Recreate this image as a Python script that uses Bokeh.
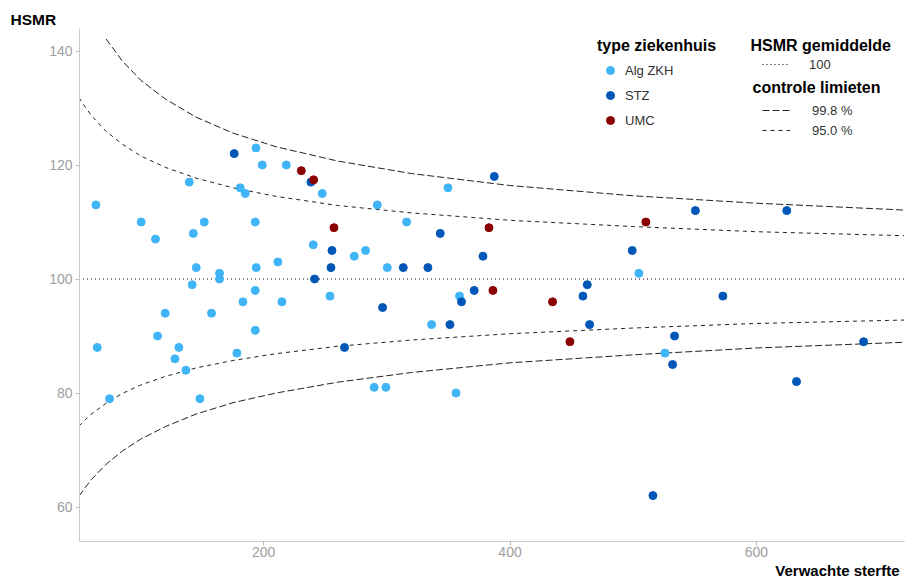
from bokeh.plotting import figure
from bokeh.models import Legend, LegendItem, Label, Range1d, FixedTicker, Title
from bokeh.embed import file_html
from bokeh.resources import INLINE

# ---- data: Alg ZKH (general hospitals) ----
alg_x = [63.7, 193.7, 198.8, 218.3, 247.5, 139.5, 180.9, 185.0, 100.5, 151.7,
         193.1, 112.1, 142.8, 240.2, 273.5, 145.2, 193.9, 211.5, 164.1, 164.1,
         141.9, 183.1, 193.1, 214.8, 253.8, 120.0, 157.6, 193.1, 113.8, 64.8,
         131.1, 127.9, 178.2, 136.8, 74.8, 148.2, 349.6, 292.2, 316.0, 282.7,
         300.3, 359.0, 336.3, 289.7, 299.2, 356.1, 504.6, 525.8]
alg_y = [113, 123, 120, 120, 115, 117, 116, 115, 110, 110,
         110, 107, 108, 106, 104, 102, 102, 103, 101, 100,
         99, 96, 98, 96, 97, 94, 94, 91, 90, 88,
         88, 86, 87, 84, 79, 79, 116, 113, 110, 105,
         102, 97, 92, 81, 81, 80, 101, 87]

# ---- data: STZ (top clinical hospitals) ----
stz_x = [176.0, 238.3, 255.4, 254.6, 241.3, 265.6, 387.2, 343.3, 378.0, 313.3,
         333.3, 360.6, 370.9, 459.2, 462.7, 464.6, 296.5, 351.2, 550.5, 624.7,
         499.2, 572.8, 533.6, 532.0, 687.1, 632.6, 516.0]
stz_y = [122, 117, 105, 102, 100, 88, 118, 108, 104, 102,
         102, 96, 98, 97, 99, 92, 95, 92, 112, 112,
         105, 97, 90, 85, 89, 82, 62]

# ---- data: UMC (university medical centres) ----
umc_x = [230.5, 240.5, 257.0, 382.9, 386.1, 434.5, 448.6, 510.3]
umc_y = [119, 117.4, 109, 109, 98, 96, 89, 110]

# ---- control limits ----
limit_x = [50, 55, 60, 72, 85, 100, 120, 145, 175, 210, 260, 320, 400, 500, 600, 720]
lower_998 = [61.9, 63.4, 64.8, 67.5, 69.8, 71.9, 74.1, 76.3, 78.3, 80.0, 81.9, 83.6, 85.3, 86.7, 87.9, 88.9]
lower_95 = [74.2, 75.3, 76.3, 78.2, 79.9, 81.4, 82.9, 84.4, 85.7, 86.9, 88.2, 89.3, 90.4, 91.4, 92.2, 92.8]
upper_95 = [131.8, 130.2, 128.7, 125.9, 123.7, 121.6, 119.6, 117.7, 116.0, 114.5, 112.9, 111.6, 110.3, 109.2, 108.3, 107.6]
upper_998_x = [72, 85, 100, 120, 145, 175, 210, 260, 320, 400, 500, 600, 720]
upper_998 = [142.1, 138.3, 134.9, 131.6, 128.4, 125.6, 123.2, 120.7, 118.5, 116.4, 114.6, 113.3, 112.1]
hsmr_mean = 100

x_ticks = [200, 400, 600]
y_ticks = [60, 80, 100, 120, 140]

FONT = "Liberation Sans"

p = figure(width=905, height=579, output_backend="svg", toolbar_location=None,
           x_range=Range1d(50.4, 721.1), y_range=Range1d(53.95, 143.95),
           min_border_left=79, min_border_right=0, min_border_top=28,
           min_border_bottom=38)
p.xgrid.visible = False
p.ygrid.visible = False
p.outline_line_color = None
p.background_fill_color = "white"

for ax in (p.xaxis[0], p.yaxis[0]):
    ax.axis_line_color = "#cccccc"
    ax.major_tick_line_color = "#bbbbbb"
    ax.minor_tick_line_color = None
    ax.major_tick_out = 4
    ax.major_tick_in = 0
    ax.major_label_text_color = "#9e9e9e"
    ax.major_label_text_font = FONT
    ax.major_label_text_font_size = "14px"
p.xaxis[0].ticker = FixedTicker(ticks=x_ticks)
p.yaxis[0].ticker = FixedTicker(ticks=y_ticks)
p.xaxis[0].major_label_standoff = 1
p.yaxis[0].major_label_standoff = 3

# axis titles as plot titles (outside the frame)
t_top = Title(text="HSMR", align="left", offset=-69, standoff=1, text_font=FONT,
              text_font_size="15.5px", text_font_style="bold", text_color="black")
p.add_layout(t_top, "above")
t_bot = Title(text="Verwachte sterfte", align="right", offset=6, standoff=0, text_font=FONT,
              text_font_size="15px", text_font_style="bold", text_color="black")
p.add_layout(t_bot, "below")

LINE_COL = "#222222"
r998u = p.line(upper_998_x, upper_998, line_color=LINE_COL, line_width=1, line_dash="7 3")
r998l = p.line(limit_x, lower_998, line_color=LINE_COL, line_width=1, line_dash="7 3")
r95u = p.line(limit_x, upper_95, line_color=LINE_COL, line_width=1, line_dash="4 4")
r95l = p.line(limit_x, lower_95, line_color=LINE_COL, line_width=1, line_dash="4 4")
rmean = p.line(limit_x, [hsmr_mean] * len(limit_x), line_color="black", line_width=1,
               line_dash="1 3")

ra = p.scatter(alg_x, alg_y, size=8, fill_color="#3fb5f7", line_color="#3fb5f7")
rs = p.scatter(stz_x, stz_y, size=8, fill_color="#0057b7", line_color="#0057b7")
ru = p.scatter(umc_x, umc_y, size=8, fill_color="#8b0000", line_color="#8b0000")

common = dict(border_line_color=None, background_fill_alpha=0, padding=0, margin=0,
              label_text_font=FONT, label_text_font_size="13px",
              label_text_color="#333333", orientation="vertical")

leg1 = Legend(items=[LegendItem(label="Alg ZKH", renderers=[ra]),
                     LegendItem(label="STZ", renderers=[rs]),
                     LegendItem(label="UMC", renderers=[ru])],
              title="type ziekenhuis", title_text_font=FONT, title_text_font_size="16px",
              title_text_font_style="bold", title_text_color="black", title_standoff=5,
              location=(518, 411), spacing=5, glyph_width=26, glyph_height=20,
              label_height=20, label_standoff=2, **common)
p.add_layout(leg1)

leg2 = Legend(items=[LegendItem(label="100", renderers=[rmean])],
              location=(683, 467), spacing=0, glyph_width=28, glyph_height=20,
              label_height=20, label_standoff=19, **common)
p.add_layout(leg2)

leg3 = Legend(items=[LegendItem(label="99.8 %", renderers=[r998u]),
                     LegendItem(label="95.0 %", renderers=[r95u])],
              location=(683, 401), spacing=0, glyph_width=28, glyph_height=20,
              label_height=20, label_standoff=22, **common)
p.add_layout(leg3)

title_kw = dict(x_units="screen", y_units="screen", text_font=FONT,
                text_font_style="bold", text_color="black", text_baseline="middle")
p.add_layout(Label(x=671, y=496, text="HSMR gemiddelde", text_font_size="16px", **title_kw))
p.add_layout(Label(x=673, y=454, text="controle limieten", text_font_size="16px", **title_kw))

open("out.html", "w").write(file_html(p, INLINE))
